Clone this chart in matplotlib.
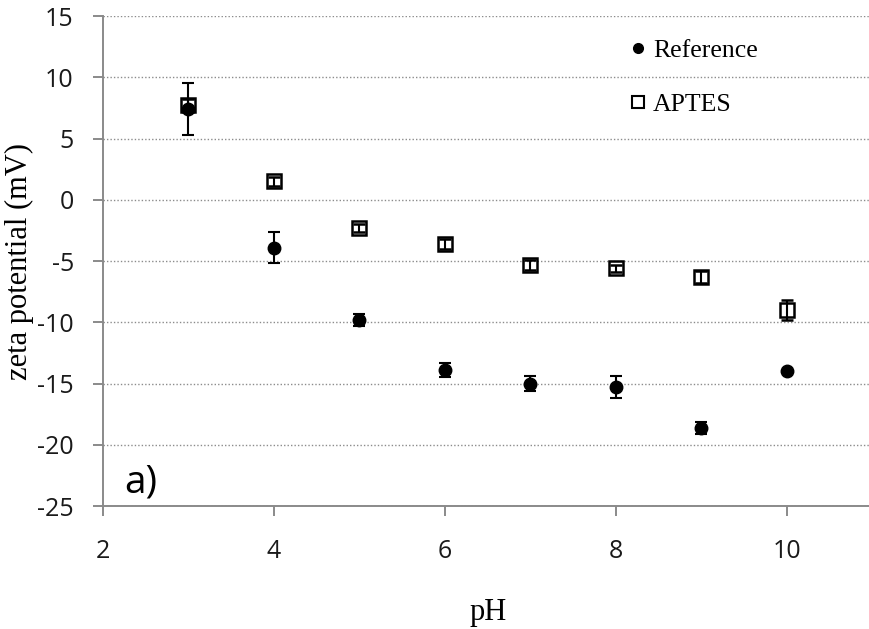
import matplotlib
matplotlib.use('Agg')
import matplotlib.pyplot as plt
from matplotlib.lines import Line2D

plt.rcParams['axes.unicode_minus'] = False

# data
ph = [3, 4, 5, 6, 7, 8, 9, 10]
ref_zeta = [7.4, -3.9, -9.8, -13.9, -15.0, -15.3, -18.6, -14.0]
ref_err = [2.1, 1.3, 0.5, 0.6, 0.6, 0.9, 0.5, 0.1]
aptes_zeta = [7.7, 1.5, -2.3, -3.6, -5.3, -5.6, -6.3, -9.0]
aptes_err = [0.5, 0.4, 0.3, 0.4, 0.4, 0.3, 0.5, 0.8]

y_ticks = [15, 10, 5, 0, -5, -10, -15, -20, -25]
x_ticks = [2, 4, 6, 8, 10]

fig = plt.figure(figsize=(8.69, 6.29), dpi=100)
ax = fig.add_axes([0.1185, 0.1955, 0.8855, 0.779])

serif = 'Liberation Serif'
sans = 'Open Sans'

# hollow squares, error bars visible inside
ax.errorbar(ph, aptes_zeta, yerr=aptes_err, fmt='s', ms=10.5, mfc='none', mec='black',
            mew=1.8, ecolor='black', elinewidth=1.5, capsize=4.5, capthick=1.5,
            zorder=3)
ax.errorbar(ph, ref_zeta, yerr=ref_err, fmt='o', ms=9, color='black',
            ecolor='black', elinewidth=1.5, capsize=4.5, capthick=1.5,
            zorder=4)

ax.set_xlim(2, 11)
ax.set_ylim(-25, 15)
ax.set_yticks(y_ticks)
ax.set_xticks(x_ticks)

for s in ['top', 'right']:
    ax.spines[s].set_visible(False)
for s in ['left', 'bottom']:
    ax.spines[s].set_color('#8a8a8a')
    ax.spines[s].set_linewidth(1.4)

ax.tick_params(axis='y', direction='out', length=7, width=1.4, color='#8a8a8a',
               labelsize=18, pad=14)
ax.tick_params(axis='x', direction='out', length=7, width=1.4, color='#8a8a8a',
               labelsize=18, pad=17)
for lab in ax.get_xticklabels() + ax.get_yticklabels():
    lab.set_fontfamily(sans)
    lab.set_color('#1a1a1a')

ax.grid(axis='y', linestyle=(0, (1, 1.5)), color='#8c8c8c', linewidth=1.0)
ax.set_axisbelow(True)

ax.set_xlabel('pH', fontfamily=serif, fontsize=22, labelpad=24)
ax.set_ylabel('zeta potential (mV)', fontfamily=serif, fontsize=22, labelpad=2)

handles = [Line2D([], [], ls='none', marker='o', ms=7, color='black'),
           Line2D([], [], ls='none', marker='s', ms=8.5, mfc='none', mec='black', mew=1.5)]
ax.legend(handles, ['Reference', 'APTES'], loc='upper left',
          bbox_to_anchor=(0.683, 0.953), frameon=False, borderpad=0, borderaxespad=0,
          prop={'family': serif, 'size': 18.5}, handlelength=0.7,
          handletextpad=0.25, labelspacing=1.22)

ax.text(0.028, 0.027, 'a)', transform=ax.transAxes, fontfamily=sans,
        fontsize=28, color='black')

fig.savefig('out.png', dpi=100)
